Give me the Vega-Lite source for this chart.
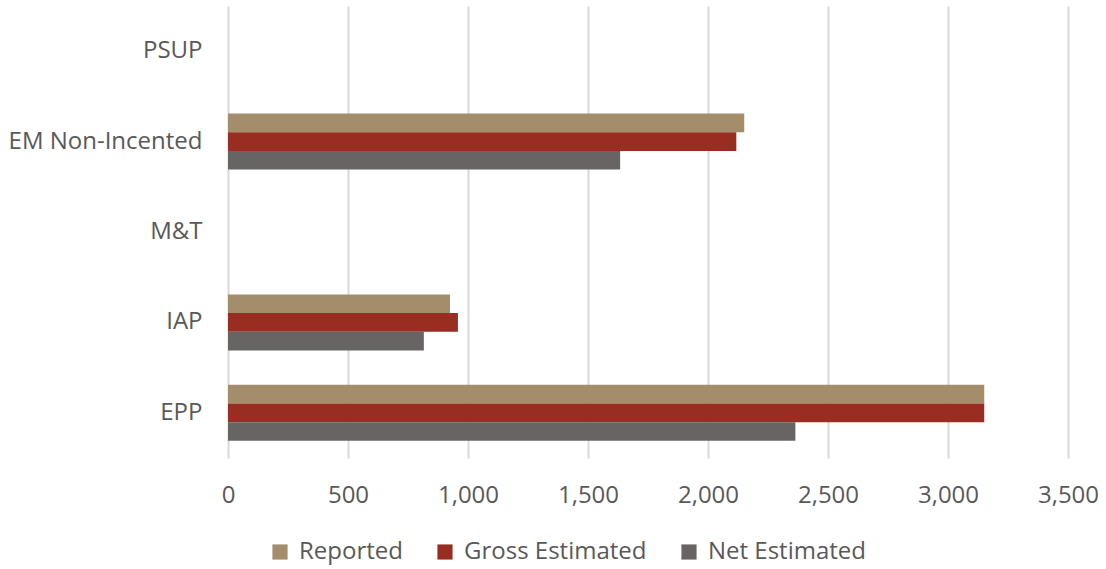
{
  "$schema": "https://vega.github.io/schema/vega-lite/v6.json",
  "width": 840,
  "height": 452,
  "autosize": {"type": "none"},
  "padding": {"left": 228, "top": 6, "right": 38, "bottom": 111},
  "background": "white",
  "config": {
    "view": {"stroke": null},
    "font": "Open Sans",
    "axis": {"labelFont": "Open Sans", "labelFontSize": 24, "labelColor": "#595959"},
    "legend": {"labelFont": "Open Sans", "labelFontSize": 24, "labelColor": "#595959"}
  },
  "data": {
    "values": [
      {"program": "EM Non-Incented", "series": "Reported", "value": 2151},
      {"program": "EM Non-Incented", "series": "Gross Estimated", "value": 2118},
      {"program": "EM Non-Incented", "series": "Net Estimated", "value": 1634},
      {"program": "IAP", "series": "Reported", "value": 925},
      {"program": "IAP", "series": "Gross Estimated", "value": 958},
      {"program": "IAP", "series": "Net Estimated", "value": 816},
      {"program": "EPP", "series": "Reported", "value": 3151},
      {"program": "EPP", "series": "Gross Estimated", "value": 3151},
      {"program": "EPP", "series": "Net Estimated", "value": 2364}
    ]
  },
  "mark": {"type": "bar"},
  "encoding": {
    "y": {
      "field": "program",
      "type": "nominal",
      "scale": {"domain": ["PSUP", "EM Non-Incented", "M&T", "IAP", "EPP"], "paddingInner": 0.38, "paddingOuter": 0.19},
      "axis": {"title": null, "domain": false, "ticks": false, "labelPadding": 26, "labelLimit": 400, "grid": false}
    },
    "yOffset": {
      "field": "series",
      "type": "nominal",
      "scale": {"domain": ["Reported", "Gross Estimated", "Net Estimated"], "paddingInner": 0, "paddingOuter": 0}
    },
    "x": {
      "field": "value",
      "type": "quantitative",
      "scale": {"domain": [0, 3500], "nice": false},
      "axis": {"title": null, "domain": false, "ticks": false, "labelPadding": 25, "values": [0, 500, 1000, 1500, 2000, 2500, 3000, 3500], "format": ",.0f", "grid": true, "gridColor": "#D9D9D9", "gridWidth": 2, "labelFlush": false, "labelOverlap": false}
    },
    "color": {
      "field": "series",
      "type": "nominal",
      "scale": {"domain": ["Reported", "Gross Estimated", "Net Estimated"], "range": ["#A48D6A", "#9A2D21", "#686463"]},
      "legend": {
        "title": null,
        "orient": "none",
        "direction": "horizontal",
        "legendX": 40,
        "legendY": 534,
        "padding": 0,
        "symbolType": "square",
        "symbolSize": 230,
        "symbolStrokeWidth": 0,
        "labelOffset": 7,
        "labelLimit": 400,
        "columnPadding": 30
      }
    }
  }
}
